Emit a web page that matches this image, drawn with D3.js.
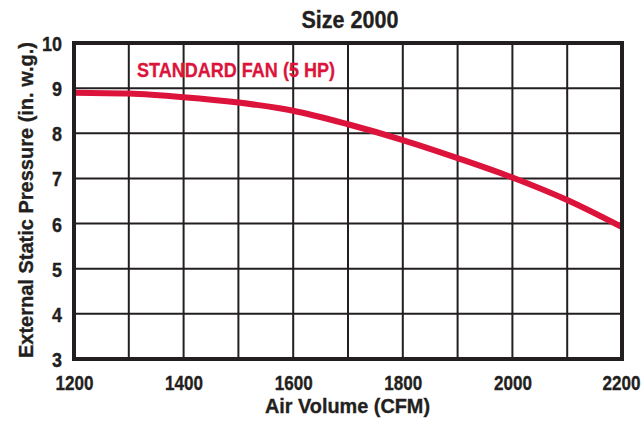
<!DOCTYPE html>
<html>
<head>
<meta charset="utf-8">
<script src="https://cdn.jsdelivr.net/npm/d3@7"></script>
<style>
  html, body { margin: 0; padding: 0; background: #fff; }
  svg { display: block; }
  text { font-family: "Liberation Sans Narrow", "Arial Narrow", "Liberation Sans", Arial, sans-serif; font-weight: bold; fill: #231f20; }
</style>
</head>
<body>
<script>
// ---- data ----
const title = "Size 2000";
const seriesName = "STANDARD FAN (5 HP)";
const xTitle = "Air Volume (CFM)";
const yTitle = "External Static Pressure (in. w.g.)";
const airVolume = [1200, 1300, 1400, 1500, 1600, 1700, 1800, 1900, 2000, 2100, 2200];
const pressure  = [8.90, 8.88, 8.80, 8.68, 8.50, 8.20, 7.85, 7.45, 7.02, 6.52, 5.92];
const xGridTicks = [1200, 1300, 1400, 1500, 1600, 1700, 1800, 1900, 2000, 2100, 2200];
const xLabelTicks = [1200, 1400, 1600, 1800, 2000, 2200];
const yTicks = [3, 4, 5, 6, 7, 8, 9, 10];

const W = 643, H = 421;
const m = { left: 74, right: W - 622, top: 43, bottom: H - 359 };

const svg = d3.select("body").append("svg").attr("width", W).attr("height", H);

const x = d3.scaleLinear().domain([1200, 2200]).range([m.left, W - m.right]);
const y = d3.scaleLinear().domain([3, 10]).range([H - m.bottom, m.top]);

const ink = "#231f20";
const red = "#dc143c";
const fontStack = "\"Liberation Sans Narrow\", \"Liberation Sans\", sans-serif";

// grid
const g = svg.append("g");
g.selectAll("line.v").data(xGridTicks).join("line")
  .attr("x1", d => x(d)).attr("x2", d => x(d))
  .attr("y1", y(10)).attr("y2", y(3))
  .attr("stroke", ink).attr("stroke-width", 2);
g.selectAll("line.h").data(yTicks).join("line")
  .attr("y1", d => y(d)).attr("y2", d => y(d))
  .attr("x1", x(1200)).attr("x2", x(2200))
  .attr("stroke", ink).attr("stroke-width", 2);

// curve
const pts = airVolume.map((v, i) => [v, pressure[i]]);
const line = d3.line().x(d => x(d[0])).y(d => y(d[1])).curve(d3.curveMonotoneX);
svg.append("path").datum(pts).attr("d", line)
  .attr("fill", "none").attr("stroke", red).attr("stroke-width", 6);

// border
svg.append("rect")
  .attr("x", x(1200)).attr("y", y(10))
  .attr("width", x(2200) - x(1200)).attr("height", y(3) - y(10))
  .attr("fill", "none").attr("stroke", ink).attr("stroke-width", 4);

// x axis labels
const xAxis = d3.axisBottom(x).tickValues(xLabelTicks).tickSize(0).tickPadding(0).tickFormat(d3.format("d"));
const xa = svg.append("g").attr("transform", `translate(0,${y(3)})`).call(xAxis);
xa.select(".domain").remove();
xa.selectAll("text").attr("font-size", 21).attr("dy", null).attr("y", 30.5)
  .attr("textLength", 38).attr("lengthAdjust", "spacingAndGlyphs")
  .attr("text-anchor", d => d === 2200 ? "end" : "middle")
  .attr("x", d => d === 2200 ? 640 - x(2200) : 0)
  .style("font-family", fontStack).style("font-weight", "bold")
  .attr("fill", ink).attr("stroke", ink).attr("stroke-width", 0.35);

// y axis labels
const yAxis = d3.axisLeft(y).tickValues(yTicks).tickSize(0).tickPadding(0).tickFormat(d3.format("d"));
const ya = svg.append("g").attr("transform", `translate(62,0)`).call(yAxis);
ya.select(".domain").remove();
ya.selectAll("text").attr("font-size", 21).attr("dy", "0.36em").attr("x", 0)
  .attr("textLength", d => d >= 10 ? 20 : 10).attr("lengthAdjust", "spacingAndGlyphs")
  .style("font-family", fontStack).style("font-weight", "bold")
  .attr("fill", ink).attr("stroke", ink).attr("stroke-width", 0.35);

// title
svg.append("text").attr("x", 350).attr("y", 28).attr("text-anchor", "middle")
  .attr("font-size", 24).attr("textLength", 97).attr("lengthAdjust", "spacingAndGlyphs")
  .attr("stroke", ink).attr("stroke-width", 0.35).text(title);

// x title
svg.append("text").attr("x", 347.5).attr("y", 413).attr("text-anchor", "middle")
  .attr("font-size", 21).attr("textLength", 165).attr("lengthAdjust", "spacingAndGlyphs")
  .attr("stroke", ink).attr("stroke-width", 0.35).text(xTitle);

// y title
svg.append("text").attr("transform", "translate(33,200) rotate(-90)").attr("text-anchor", "middle")
  .attr("font-size", 21).attr("textLength", 316).attr("lengthAdjust", "spacingAndGlyphs")
  .attr("stroke", ink).attr("stroke-width", 0.35).text(yTitle);

// series label
svg.append("text").attr("x", 137).attr("y", 77)
  .attr("font-size", 21).attr("textLength", 198).attr("lengthAdjust", "spacingAndGlyphs")
  .style("fill", red).attr("stroke", red).attr("stroke-width", 0.3).text(seriesName);
</script>
</body>
</html>
